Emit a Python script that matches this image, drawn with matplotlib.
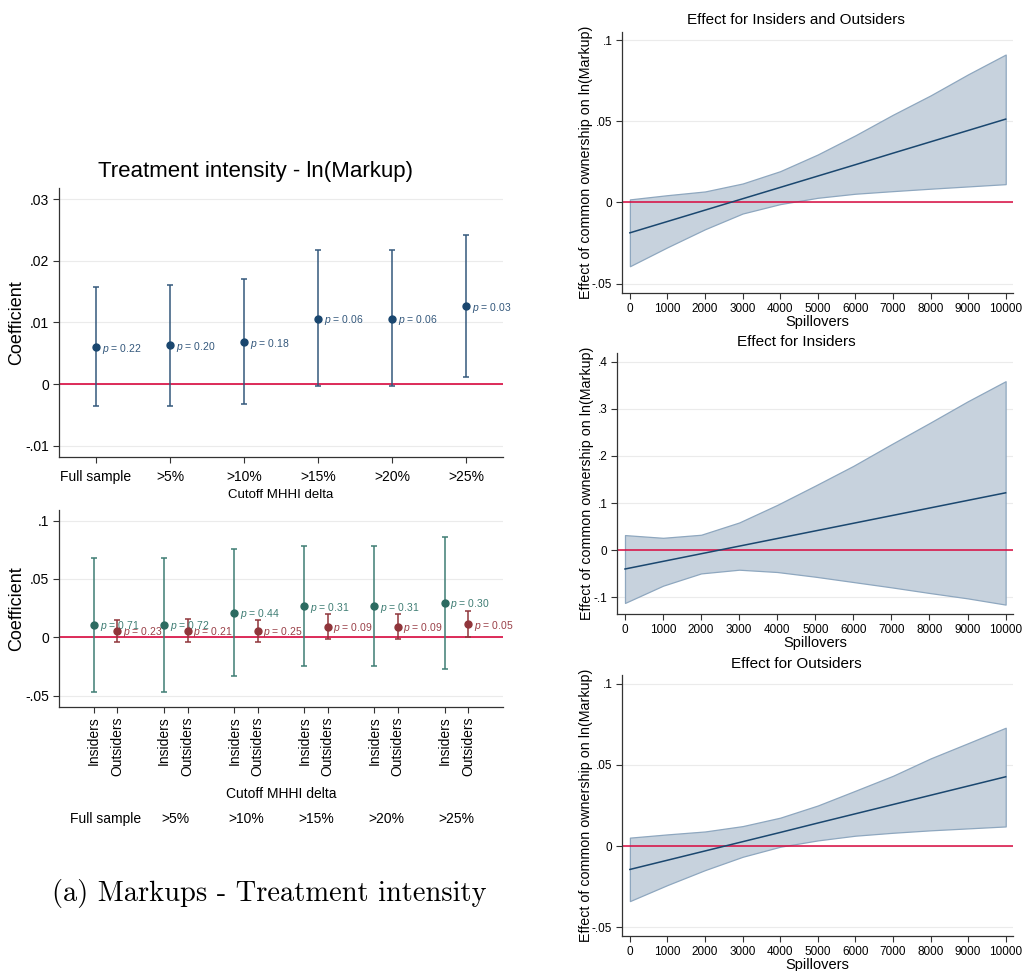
import matplotlib
matplotlib.use("Agg")
import matplotlib.pyplot as plt

plt.rcParams["font.family"] = ["Liberation Sans", "DejaVu Sans"]
plt.rcParams["mathtext.fontset"] = "custom"
plt.rcParams["mathtext.it"] = "Liberation Sans:italic"
plt.rcParams["mathtext.rm"] = "Liberation Sans"

W, H = 1023, 971

NAVY = "#1a476f"
NAVY_BAR = "#34587c"
TEAL = "#2c6b61"
TEAL_BAR = "#3f7d74"
MAROON = "#90353b"
MAROON_TXT = "#9a4048"
ZERO = "#d8093f"
GRID = "#ebebeb"
FILL = "#c7d2dd"
FILL_EDGE = "#8ea7bf"
SPINE = "#333333"

# --- left top: treatment intensity
cutoffs = ["Full sample", ">5%", ">10%", ">15%", ">20%", ">25%"]
ti_coef = [0.0060, 0.0063, 0.0068, 0.0106, 0.0106, 0.0126]
ti_lo = [-0.0036, -0.0035, -0.0032, -0.0003, -0.0003, 0.0011]
ti_hi = [0.0157, 0.0160, 0.0170, 0.0217, 0.0217, 0.0242]
ti_p = ["0.22", "0.20", "0.18", "0.06", "0.06", "0.03"]
ti_yticks = [-0.01, 0, 0.01, 0.02, 0.03]
ti_ylabels = ["-.01", "0", ".01", ".02", ".03"]

# --- left bottom: insiders / outsiders
ins_coef = [0.0109, 0.0106, 0.0212, 0.0266, 0.0266, 0.0294]
ins_lo = [-0.0469, -0.0472, -0.0332, -0.0249, -0.0249, -0.0269]
ins_hi = [0.0683, 0.0680, 0.0757, 0.0783, 0.0783, 0.0860]
ins_p = ["0.71", "0.72", "0.44", "0.31", "0.31", "0.30"]
out_coef = [0.0054, 0.0054, 0.0054, 0.0092, 0.0092, 0.0111]
out_lo = [-0.0037, -0.0037, -0.0043, -0.0017, -0.0017, 0.0003]
out_hi = [0.0152, 0.0154, 0.0152, 0.0200, 0.0200, 0.0223]
out_p = ["0.23", "0.21", "0.25", "0.09", "0.09", "0.05"]
io_yticks = [-0.05, 0, 0.05, 0.1]
io_ylabels = ["-.05", "0", ".05", ".1"]

# --- right: marginal effects over spillovers
spill = [0, 1000, 2000, 3000, 4000, 5000, 6000, 7000, 8000, 9000, 10000]
both_est = [-0.0187, -0.0117, -0.0047, 0.0023, 0.0093, 0.0163, 0.0233, 0.0304, 0.0374, 0.0444, 0.0514]
both_lo = [-0.0393, -0.0276, -0.0165, -0.0068, -0.0010, 0.0029, 0.0054, 0.0070, 0.0085, 0.0099, 0.0113]
both_hi = [0.0019, 0.0045, 0.0068, 0.0117, 0.0193, 0.0296, 0.0414, 0.0541, 0.0660, 0.0790, 0.0912]
insd_est = [-0.0403, -0.0241, -0.0079, 0.0083, 0.0245, 0.0407, 0.0569, 0.0731, 0.0893, 0.1055, 0.1217]
insd_lo = [-0.1125, -0.0758, -0.0497, -0.0418, -0.0467, -0.0567, -0.0680, -0.0793, -0.0913, -0.1027, -0.1160]
insd_hi = [0.0318, 0.0260, 0.0325, 0.0586, 0.0960, 0.1370, 0.1790, 0.2250, 0.2700, 0.3160, 0.3590]
outd_est = [-0.0144, -0.0087, -0.0030, 0.0027, 0.0084, 0.0142, 0.0199, 0.0256, 0.0313, 0.0370, 0.0427]
outd_lo = [-0.0339, -0.0240, -0.0148, -0.0066, -0.0004, 0.0035, 0.0064, 0.0082, 0.0097, 0.0109, 0.0121]
outd_hi = [0.0052, 0.0072, 0.0090, 0.0123, 0.0175, 0.0250, 0.0341, 0.0433, 0.0540, 0.0634, 0.0729]
small_yticks = [-0.05, 0, 0.05, 0.1]
small_ylabels = ["-.05", "0", ".05", ".1"]
big_yticks = [-0.1, 0, 0.1, 0.2, 0.3, 0.4]
big_ylabels = ["-.1", "0", ".1", ".2", ".3", ".4"]


def add_ax(fig, l, t, r, b):
    return fig.add_axes([l / W, 1 - b / H, (r - l) / W, (b - t) / H])


def stata_style(ax, yticks, ylabels, fs):
    for s in ("top", "right"):
        ax.spines[s].set_visible(False)
    for s in ("left", "bottom"):
        ax.spines[s].set_color(SPINE)
        ax.spines[s].set_linewidth(0.9)
    ax.set_yticks(yticks)
    ax.set_yticklabels(ylabels)
    ax.tick_params(direction="out", length=4, width=0.8, color=SPINE,
                   labelsize=fs, pad=3)
    ax.grid(axis="y", color=GRID, linewidth=0.8)
    ax.set_axisbelow(True)


def p_label(ax, x, y, p, color, fs=7.5):
    ax.annotate(r"$p$ = " + p, (x, y), xytext=(4, -1), textcoords="offset points",
                fontsize=fs, color=color, va="center", ha="left")


fig = plt.figure(figsize=(W / 100, H / 100), dpi=100)

# top-left
ax = add_ax(fig, 59, 188, 503, 457)
xs = list(range(1, len(cutoffs) + 1))
ax.axhline(0, color=ZERO, lw=1.2, zorder=2)
ax.errorbar(xs, ti_coef, yerr=[[c - l for c, l in zip(ti_coef, ti_lo)],
                               [h - c for c, h in zip(ti_coef, ti_hi)]],
            fmt="o", color=NAVY, ecolor=NAVY_BAR, ms=5, elinewidth=1.1,
            capsize=2, capthick=1.1, zorder=3)
for x, y, p in zip(xs, ti_coef, ti_p):
    p_label(ax, x, y, p, NAVY_BAR)
ax.set_xlim(0.5, 6.5)
ax.set_ylim(-0.0118, 0.0318)
stata_style(ax, ti_yticks, ti_ylabels, 10)
ax.tick_params(axis="x", pad=5)
ax.set_xticks(xs)
ax.set_xticklabels(cutoffs)
ax.set_xlabel("Cutoff MHHI delta", fontsize=9.5, labelpad=4)
ax.set_ylabel("Coefficient", fontsize=13, labelpad=0.5)
fig.text(256 / W, 1 - 172 / H, "Treatment intensity - ln(Markup)",
         fontsize=16, ha="center", va="center")

# bottom-left
ax = add_ax(fig, 59, 510, 503, 707)
ins_x = [3 * g + 1 for g in range(len(cutoffs))]
out_x = [3 * g + 2 for g in range(len(cutoffs))]
ax.axhline(0, color=ZERO, lw=1.2, zorder=2)
ax.errorbar(ins_x, ins_coef, yerr=[[c - l for c, l in zip(ins_coef, ins_lo)],
                                   [h - c for c, h in zip(ins_coef, ins_hi)]],
            fmt="o", color=TEAL, ecolor=TEAL_BAR, ms=5, elinewidth=1.1,
            capsize=2, capthick=1.1, zorder=3)
ax.errorbar(out_x, out_coef, yerr=[[c - l for c, l in zip(out_coef, out_lo)],
                                   [h - c for c, h in zip(out_coef, out_hi)]],
            fmt="o", color=MAROON, ecolor=MAROON, ms=5, elinewidth=1.1,
            capsize=2, capthick=1.1, zorder=3)
for x, y, p in zip(ins_x, ins_coef, ins_p):
    p_label(ax, x, y, p, TEAL_BAR)
for x, y, p in zip(out_x, out_coef, out_p):
    p_label(ax, x, y, p, MAROON_TXT)
ax.set_xlim(-0.5, 18.5)
ax.set_ylim(-0.0597, 0.109)
stata_style(ax, io_yticks, io_ylabels, 10)
ax.set_xticks(ins_x + out_x)
ax.set_xticklabels(["Insiders"] * len(ins_x) + ["Outsiders"] * len(out_x),
                   rotation=90, fontsize=10)
ax.set_xlabel("Cutoff MHHI delta", fontsize=10, labelpad=8)
ax.set_ylabel("Coefficient", fontsize=13, labelpad=0.5)
for g, name in enumerate(cutoffs):
    ax.annotate(name, (3 * g + 1.5, 0), xycoords=("data", "axes fraction"),
                xytext=(0, -112), textcoords="offset pixels",
                ha="center", va="center", fontsize=10)

fig.text(52 / W, 1 - 893 / H, "(a) Markups - Treatment intensity",
         family="cmr10", fontsize=20.5, ha="left", va="center")

# right panels
panels = [
    ((622, 32, 1013, 293), 20, "Effect for Insiders and Outsiders",
     both_est, both_lo, both_hi, (-0.0558, 0.1051), small_yticks, small_ylabels),
    ((617, 353, 1013, 614), 342, "Effect for Insiders",
     insd_est, insd_lo, insd_hi, (-0.136, 0.419), big_yticks, big_ylabels),
    ((622, 675, 1013, 936), 664, "Effect for Outsiders",
     outd_est, outd_lo, outd_hi, (-0.0554, 0.1054), small_yticks, small_ylabels),
]
for rect, ty, title, est, lo, hi, ylim, yt, yl in panels:
    ax = add_ax(fig, *rect)
    ax.fill_between(spill, lo, hi, facecolor=FILL, edgecolor=FILL_EDGE,
                    linewidth=0.9, zorder=1)
    ax.axhline(0, color=ZERO, lw=1.1, zorder=2)
    ax.plot(spill, est, color=NAVY, lw=1.1, zorder=3)
    ax.set_xlim(-210, 10194)
    ax.set_ylim(*ylim)
    stata_style(ax, yt, yl, 8.5)
    ax.set_xticks(spill)
    ax.set_xticklabels([str(s) for s in spill])
    ax.set_xlabel("Spillovers", fontsize=10.5, labelpad=0)
    ax.set_ylabel("Effect of common ownership on ln(Markup)", fontsize=10.3,
                  labelpad=-0.5)
    fig.text(796 / W, 1 - ty / H, title, fontsize=11, ha="center", va="center")

fig.savefig("out.png", dpi=100)
